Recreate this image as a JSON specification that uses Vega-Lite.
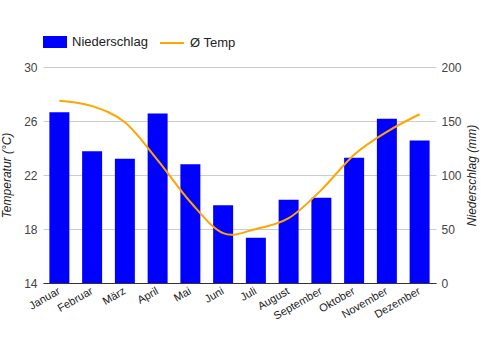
{
  "$schema": "https://vega.github.io/schema/vega-lite/v6.json",
  "width": 393,
  "height": 216,
  "autosize": {"type": "none"},
  "padding": {"left": 43, "top": 67, "right": 45, "bottom": 67},
  "background": "white",
  "config": {
    "font": "Liberation Sans",
    "view": {"stroke": null},
    "axis": {"labelFont": "Liberation Sans", "titleFont": "Liberation Sans"},
    "legend": {"labelFont": "Liberation Sans", "labelFontSize": 13, "labelColor": "#222222", "labelOffset": 5}
  },
  "data": {
    "values": [
      {"Monat": "Januar", "Niederschlag": 158, "Temp": 27.5},
      {"Monat": "Februar", "Niederschlag": 122, "Temp": 27.1},
      {"Monat": "März", "Niederschlag": 115, "Temp": 25.9},
      {"Monat": "April", "Niederschlag": 157, "Temp": 23.1},
      {"Monat": "Mai", "Niederschlag": 110, "Temp": 20.0},
      {"Monat": "Juni", "Niederschlag": 72, "Temp": 17.7},
      {"Monat": "Juli", "Niederschlag": 42, "Temp": 18.0},
      {"Monat": "August", "Niederschlag": 77, "Temp": 18.8},
      {"Monat": "September", "Niederschlag": 79, "Temp": 20.9},
      {"Monat": "Oktober", "Niederschlag": 116, "Temp": 23.5},
      {"Monat": "November", "Niederschlag": 152, "Temp": 25.2},
      {"Monat": "Dezember", "Niederschlag": 132, "Temp": 26.5}
    ]
  },
  "encoding": {
    "x": {
      "field": "Monat",
      "type": "nominal",
      "sort": null,
      "scale": {"paddingInner": 0.39, "paddingOuter": 0.195},
      "axis": {
        "title": null,
        "labelAngle": -30,
        "labelAlign": "right",
        "labelBaseline": "middle",
        "ticks": false,
        "domainColor": "#333333",
        "labelColor": "#222222",
        "labelFontSize": 11,
        "labelPadding": 7,
        "grid": false
      }
    }
  },
  "layer": [
    {
      "mark": {"type": "bar"},
      "encoding": {
        "y": {
          "field": "Niederschlag",
          "type": "quantitative",
          "scale": {"domain": [0, 200], "nice": false},
          "axis": {
            "orient": "right",
            "values": [0, 50, 100, 150, 200],
            "title": "Niederschlag (mm)",
            "titleFontStyle": "italic",
            "titleFontWeight": "normal",
            "titleFontSize": 12,
            "titleColor": "#222222",
            "titleAngle": -90,
            "titleBaseline": "top",
            "titlePadding": 5,
            "labelColor": "#444444",
            "labelFontSize": 12,
            "labelPadding": 5,
            "ticks": false,
            "domain": false,
            "grid": false
          }
        },
        "fill": {
          "datum": "Niederschlag",
          "type": "nominal",
          "scale": {"range": ["#0000ff"]},
          "legend": {
            "title": null,
            "orient": "none",
            "legendX": 0,
            "legendY": -37,
            "symbolType": "M-1,-0.5H1V0.5H-1Z",
            "symbolSize": 576,
            "symbolStrokeWidth": 0
          }
        }
      }
    },
    {
      "mark": {"type": "line", "interpolate": "cardinal", "strokeWidth": 2},
      "encoding": {
        "y": {
          "field": "Temp",
          "type": "quantitative",
          "scale": {"domain": [14, 30], "nice": false, "zero": false},
          "axis": {
            "orient": "left",
            "values": [14, 18, 22, 26, 30],
            "title": "Temperatur (°C)",
            "titleFontStyle": "italic",
            "titleFontWeight": "normal",
            "titleFontSize": 12,
            "titleColor": "#222222",
            "titlePadding": 10,
            "labelColor": "#444444",
            "labelFontSize": 12,
            "labelPadding": 6,
            "ticks": false,
            "domain": false,
            "grid": true,
            "gridColor": "#cccccc"
          }
        },
        "stroke": {
          "datum": "Ø Temp",
          "type": "nominal",
          "scale": {"range": ["#ffa500"]},
          "legend": {
            "title": null,
            "orient": "none",
            "legendX": 116,
            "legendY": -37,
            "symbolType": "stroke",
            "symbolSize": 576,
            "symbolStrokeWidth": 2
          }
        }
      }
    }
  ],
  "resolve": {"scale": {"y": "independent"}}
}
